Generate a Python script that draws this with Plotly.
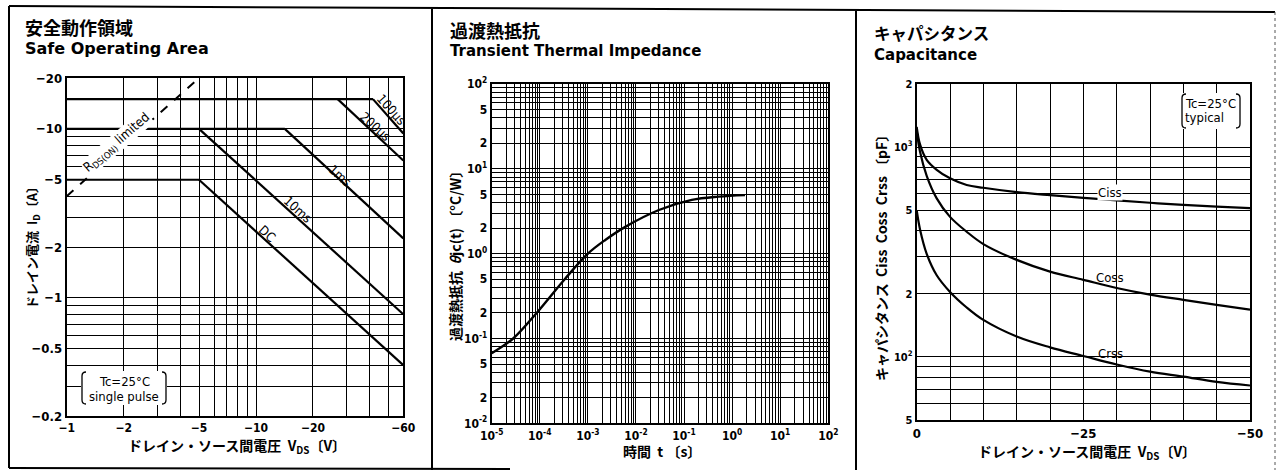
import numpy as np
import plotly.graph_objects as go

W, H = 1277, 473

# ---------------- Panel 1: Safe Operating Area ----------------
soa_xticks = [1, 2, 5, 10, 20, 60]
soa_xtick_text = ["−1", "−2", "−5", "−10", "−20", "−60"]
soa_xminor = [3, 4, 6, 7, 8, 9, 30, 40, 50]
soa_yticks = [0.2, 0.5, 1, 2, 5, 10, 20]
soa_ytick_text = ["−0.2", "−0.5", "−1", "−2", "−5", "−10", "−20"]
soa_yminor = [0.3, 0.4, 0.6, 0.7, 0.8, 0.9, 3, 4, 6, 7, 8, 9]

rds_v = [1, 5]
rds_i = [4, 20]
lim15_v = [1, 41.5]
lim15_i = [15, 15]
lim10_v = [1, 14.2]
lim10_i = [10, 10]
lim5_v = [1, 5]
lim5_i = [5, 5]
us100_v = [41.5, 60]
us100_i = [15, 9.4]
us200_v = [27, 60]
us200_i = [15, 6.5]
ms1_v = [14.2, 60]
ms1_i = [10, 2.25]
ms10_v = [5, 60]
ms10_i = [10, 0.8]
dc_v = [5, 60]
dc_i = [5, 0.4]

# ---------------- Panel 2: Transient Thermal Impedance ----------------
tti_xticks = [1e-5, 1e-4, 1e-3, 1e-2, 1e-1, 1e0, 1e1, 1e2]
tti_xtick_text = ["10<sup>-5</sup>", "10<sup>-4</sup>", "10<sup>-3</sup>", "10<sup>-2</sup>",
                  "10<sup>-1</sup>", "10<sup>0</sup>", "10<sup>1</sup>", "10<sup>2</sup>"]
tti_yticks = [0.01, 0.02, 0.05, 0.1, 0.2, 0.5, 1, 2, 5, 10, 20, 50, 100]
tti_ytick_text = ["10<sup>-2</sup>", "2", "5", "10<sup>-1</sup>", "2", "5", "10<sup>0</sup>",
                  "2", "5", "10<sup>1</sup>", "2", "5", "10<sup>2</sup>"]
tti_t = [1e-5, 2.8e-5, 8.6e-5, 3.3e-4, 1e-3, 2.3e-3, 6e-3, 3e-2, 1.45e-1, 5.2e-1, 1.85]
tti_theta = [0.067, 0.1, 0.2, 0.5, 1.0, 1.45, 2.07, 3.27, 4.3, 4.7, 4.9]

# ---------------- Panel 3: Capacitance ----------------
cap_xticks = [0, -25, -50]
cap_xtick_text = ["0", "−25", "−50"]
cap_xminor = [-5, -10, -15, -20, -30, -35, -40, -45]
cap_yticks = [50, 100, 200, 500, 1000, 2000]
cap_ytick_text = ["5", "10<sup>2</sup>", "2", "5", "10<sup>3</sup>", "2"]
cap_yminor = [60, 70, 80, 90, 300, 400, 600, 700, 800, 900]

cap_v = [0, -0.5, -1.5, -3, -5, -7.5, -10, -15, -20, -25, -30, -35, -40, -45, -50]
ciss = [1250, 1030, 870, 780, 710, 660, 640, 610, 590, 573, 557, 543, 530, 520, 512]
coss = [1200, 950, 730, 570, 465, 395, 345, 290, 255, 233, 213, 198, 187, 177, 168]
crss = [500, 405, 310, 245, 204, 172, 150, 125, 111, 101, 92, 85, 80.5, 76, 73]

# ---------------- figure ----------------
fig = go.Figure()


def add_line(x, y, xa, ya, width=2.2, dash="solid", shape="linear"):
    fig.add_trace(go.Scatter(x=x, y=y, xaxis=xa, yaxis=ya, mode="lines",
                             line=dict(color="black", width=width, dash=dash, shape=shape),
                             showlegend=False, hoverinfo="skip"))


add_line(rds_v, rds_i, "x", "y", width=2, dash="dash")
for vv, ii in [(lim15_v, lim15_i), (lim10_v, lim10_i), (lim5_v, lim5_i), (us100_v, us100_i),
               (us200_v, us200_i), (ms1_v, ms1_i), (ms10_v, ms10_i), (dc_v, dc_i)]:
    add_line(vv, ii, "x", "y")

add_line(tti_t, tti_theta, "x2", "y2", width=2.4, shape="spline")

add_line(cap_v, ciss, "x3", "y3", width=2.2, shape="spline")
add_line(cap_v, coss, "x3", "y3", width=2.2, shape="spline")
add_line(cap_v, crss, "x3", "y3", width=2.2, shape="spline")

NUM = "Liberation Sans Narrow, DejaVu Sans Condensed, Liberation Sans, Arial"
CJK = "Noto Sans CJK JP"
LAT = "DejaVu Sans, Liberation Sans"


def px(x):
    return x / W


def py(y):
    return 1 - y / H


def axis(dom, anchor, typ, rng, tickvals, ticktext, minor, size=12):
    d = dict(domain=dom, anchor=anchor, type=typ, range=rng, tickmode="array",
             tickvals=tickvals, ticktext=ticktext, showline=True, linecolor="black",
             linewidth=2, mirror=True, ticks="", showgrid=True, gridcolor="black",
             gridwidth=1.2, zeroline=False, automargin=False,
             tickfont=dict(family=NUM, size=size, color="black", weight="bold"),
             fixedrange=True)
    if minor is not None:
        d["minor"] = dict(tickmode="array", tickvals=minor, showgrid=True,
                          gridcolor="black", gridwidth=1, ticks="")
    return d


p2_xminor = [k * 10.0 ** d for d in range(-5, 2) for k in range(2, 10)]
p2_yminor = [k * 10.0 ** d for d in range(-2, 2) for k in (3, 4, 6, 7, 8, 9)]

fig.update_layout(
    template="none",
    width=W, height=H, autosize=False,
    margin=dict(l=0, r=0, t=0, b=0, pad=0),
    paper_bgcolor="white", plot_bgcolor="white",
    font=dict(family=LAT, color="black"),
    showlegend=False,
    xaxis=axis([px(66.7), px(403.3)], "y", "log", [0, np.log10(60)],
               soa_xticks, soa_xtick_text, soa_xminor, size=12),
    yaxis=axis([py(416), py(78)], "x", "log", [np.log10(0.2), np.log10(20)],
               soa_yticks, soa_ytick_text, soa_yminor, size=13),
    xaxis2=axis([px(491.7), px(828.3)], "y2", "log", [-5, 2],
                tti_xticks, tti_xtick_text, p2_xminor, size=12),
    yaxis2=axis([py(423.3), py(84)], "x2", "log", [-2, 2],
                tti_yticks, tti_ytick_text, p2_yminor, size=12),
    xaxis3=axis([px(916.7), px(1250)], "y3", "linear", [0, -50],
                cap_xticks, cap_xtick_text, cap_xminor, size=13),
    yaxis3=axis([py(420), py(84)], "x3", "log", [np.log10(50), np.log10(2000)],
                cap_yticks, cap_ytick_text, cap_yminor, size=11),
)


def note(x, y, text, size=12, family=LAT, weight="normal", angle=0, xanchor="center",
         bg=None):
    fig.add_annotation(x=px(x), y=py(y), xref="paper", yref="paper", text=text,
                       showarrow=False, textangle=angle, xanchor=xanchor, yanchor="middle",
                       font=dict(family=family, size=size, color="black", weight=weight),
                       bgcolor=bg, borderpad=0)


# Titles
note(24, 27, "安全動作領域", size=18, family=CJK, weight="bold", xanchor="left")
note(24, 49, "Safe Operating Area", size=16, family=LAT, weight="bold", xanchor="left")
note(449, 30, "過渡熱抵抗", size=18, family=CJK, weight="bold", xanchor="left")
note(449, 51, "Transient Thermal Impedance", size=15, family=LAT, weight="bold", xanchor="left")
note(873, 33, "キャパシタンス", size=16.5, family=CJK, weight="bold", xanchor="left")
note(873, 55, "Capacitance", size=15, family=LAT, weight="bold", xanchor="left")

# Axis titles
note(32, 245, "ドレイン電流  I<sub>D</sub>〔A〕", size=13, family=CJK, weight="bold", angle=-90)
note(237, 446, "ドレイン・ソース間電圧  V<sub>DS</sub>〔V〕", size=14, family=CJK, weight="bold")
note(455, 253, "過渡熱抵抗  <i>θ</i>jc(t) 〔°C/W〕", size=14, family=CJK, weight="bold", angle=-90)
note(662, 451, "時間  t 〔s〕", size=14, family=CJK, weight="bold")
note(881, 255, "キャパシタンス  Ciss  Coss  Crss 〔pF〕", size=14, family=CJK, weight="bold", angle=-90)
note(1087, 452, "ドレイン・ソース間電圧  V<sub>DS</sub>〔V〕", size=14, family=CJK, weight="bold")

# SOA labels
note(117, 142, "R<sub>DS(ON)</sub> limited", size=13, family=NUM, angle=-41, bg="white")
note(391, 110, "100μs", size=13, family=NUM, angle=48)
note(375, 127, "200μs", size=13, family=NUM, angle=42)
note(340, 175, "1ms", size=13, family=NUM, angle=42)
note(298, 209, "10ms", size=13, family=NUM, angle=42)
note(267, 233, "DC", size=13, family=NUM, angle=42)

# Capacitance labels
note(1110, 193, "Ciss", size=13, family=NUM, bg="white")
note(1110, 277, "Coss", size=13, family=NUM)
note(1110, 353, "Crss", size=13, family=NUM)


def pt(x, y):
    return f"{px(x):.5f},{py(y):.5f}"


def bracket(x, y0, y1, side):
    d = 4 if side == "left" else -4
    return (f"M {pt(x + d, y0)} Q {pt(x, y0)} {pt(x, y0 + 4)} "
            f"L {pt(x, y1 - 4)} Q {pt(x, y1)} {pt(x + d, y1)}")


shapes = []
# condition boxes (white background + brackets)
for (x0, x1, y0, y1) in [(82, 166, 372, 404), (1182, 1240, 94, 128)]:
    shapes.append(dict(type="rect", xref="paper", yref="paper", x0=px(x0 - 1), x1=px(x1 + 1),
                       y0=py(y1 + 1), y1=py(y0 - 1), fillcolor="white", line=dict(width=0),
                       layer="above"))
    shapes.append(dict(type="path", xref="paper", yref="paper", path=bracket(x0, y0, y1, "left"),
                       line=dict(color="black", width=1.3), layer="above"))
    shapes.append(dict(type="path", xref="paper", yref="paper", path=bracket(x1, y0, y1, "right"),
                       line=dict(color="black", width=1.3), layer="above"))

# outer frame
frame = dict(color="black", width=2)
shapes += [
    dict(type="line", xref="paper", yref="paper", x0=px(9), x1=px(1275), y0=py(6), y1=py(12), line=frame),
    dict(type="line", xref="paper", yref="paper", x0=px(9), x1=px(9), y0=py(6), y1=py(468), line=frame),
    dict(type="line", xref="paper", yref="paper", x0=px(432), x1=px(432), y0=py(9), y1=py(470), line=frame),
    dict(type="line", xref="paper", yref="paper", x0=px(856), x1=px(856), y0=py(11), y1=py(470), line=frame),
    dict(type="line", xref="paper", yref="paper", x0=px(9), x1=px(510), y0=py(468), y1=py(469), line=frame),
    dict(type="line", xref="paper", yref="paper", x0=px(1275), x1=px(1275), y0=py(12), y1=py(470),
         line=dict(color="#555555", width=1, dash="dot")),
]
fig.update_layout(shapes=shapes)

note(124, 381, "Tc=25°C", size=13, family=NUM)
note(124, 396, "single pulse", size=13, family=NUM)
note(1210, 103, "Tc=25°C", size=13, family=NUM)
note(1204, 118, "typical", size=13, family=NUM)

fig.write_html(
    "out.html",
    config={"displayModeBar": False},
    post_script="document.body.style.margin='0px';document.body.style.overflow='hidden';",
)
